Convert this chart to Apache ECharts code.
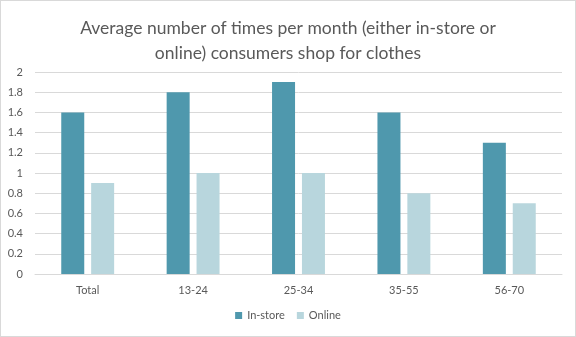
<!DOCTYPE html>
<html><head><meta charset="utf-8">
<script src="https://cdn.jsdelivr.net/npm/echarts@6/dist/echarts.min.js"></script>
<style>html,body{margin:0;padding:0;background:#fff}#c{width:574px;height:335px;border:1px solid #d9d9d9}</style>
</head><body><div id="c"></div>
<script>
const titleText = "Average number of times per month (either in-store or\nonline) consumers shop for clothes";
const categories = ["Total","13-24","25-34","35-55","56-70"];
const inStore = [1.6,1.8,1.9,1.6,1.3];
const online = [0.9,1.0,1.0,0.8,0.7];
const seriesNames = ["In-store","Online"];
const FONT = "Lato";
const chart = echarts.init(document.getElementById('c'));
chart.setOption({
  animation:false,
  title:{text:titleText,left:'center',top:10,textStyle:{fontFamily:FONT,fontWeight:'normal',fontSize:17.5,color:'#595959',lineHeight:25}},
  legend:{bottom:10,left:'center',itemWidth:7,itemHeight:7,itemGap:12,icon:'rect',
    textStyle:{fontFamily:FONT,fontSize:11,color:'#595959'},data:seriesNames},
  grid:{left:34,right:13,top:71,bottom:62,containLabel:false},
  xAxis:{type:'category',data:categories,axisLine:{lineStyle:{color:'#d9d9d9'}},axisTick:{show:false},
    axisLabel:{fontFamily:FONT,fontSize:11,color:'#595959',margin:11}},
  yAxis:{type:'value',min:0,max:2,interval:0.2,axisLine:{show:false},axisTick:{show:false},
    axisLabel:{fontFamily:FONT,fontSize:11,color:'#595959',margin:12,formatter:v=>String(+v.toFixed(1))},
    splitLine:{lineStyle:{color:'#d9d9d9'}}},
  series:[
    {name:seriesNames[0],type:'bar',data:inStore,barWidth:23,barGap:'30%',itemStyle:{color:'#4f98ad'}},
    {name:seriesNames[1],type:'bar',data:online,barWidth:23,itemStyle:{color:'#b8d6dd'}}
  ]
});
</script></body></html>
